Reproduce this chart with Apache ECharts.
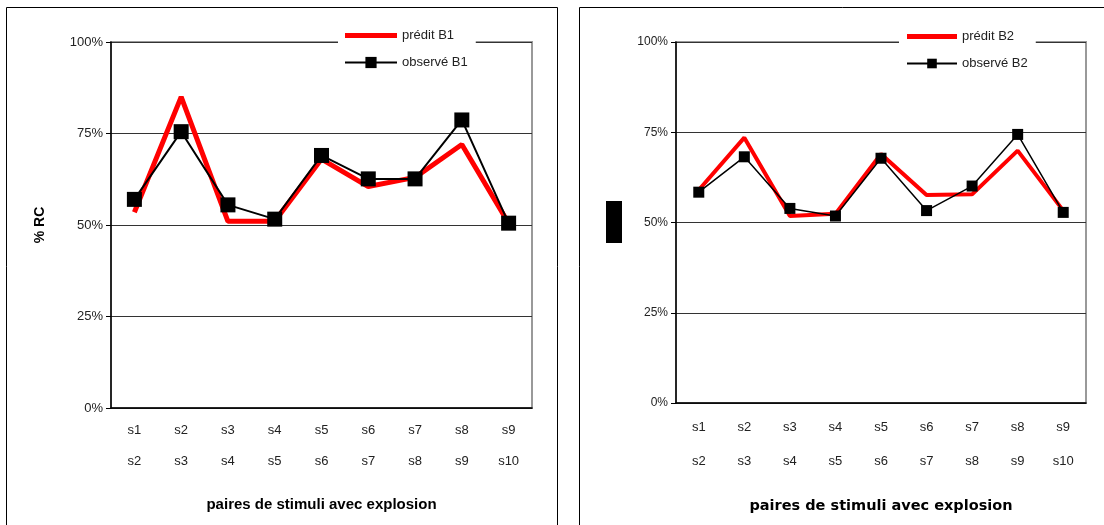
<!DOCTYPE html>
<html>
<head>
<meta charset="utf-8">
<script src="https://cdn.jsdelivr.net/npm/echarts@6/dist/echarts.min.js"></script>
<style>html,body{margin:0;padding:0;background:#fff}#c{width:1104px;height:525px}</style>
</head>
<body>
<div id="c"></div>
<script>
const categories = ['s1\ns2','s2\ns3','s3\ns4','s4\ns5','s5\ns6','s6\ns7','s7\ns8','s8\ns9','s9\ns10'];
const predB1 = [53.5, 85, 51, 51, 68, 60.5, 63, 72, 50.5];
const obsB1  = [57, 75.5, 55.5, 51.6, 69, 62.6, 62.6, 78.7, 50.5];
const predB2 = [59, 73.5, 51.8, 52.4, 69, 57.6, 57.8, 69.9, 53.3];
const obsB2  = [58.4, 68.2, 53.9, 51.8, 67.8, 53.3, 60.1, 74.4, 52.8];
const yTicks = [0, 25, 50, 75, 100];
const xTitle = 'paires de stimuli avec explosion';
const yTitle = '% RC';

const font = 'Liberation Sans, Arial, sans-serif';
const chart = echarts.init(document.getElementById('c'), null, {renderer:'canvas'});

function yAxis(gi, fs, name){
  return {
    type:'value', gridIndex:gi, min:yTicks[0], max:yTicks[yTicks.length-1], interval:25,
    axisLine:{show:true, lineStyle:{color:'#000', width:1.5}},
    axisTick:{show:true, length:5, lineStyle:{color:'#000'}},
    axisLabel:{formatter:'{value}%', color:'#222', fontSize:fs, fontFamily:font, margin:8},
    splitLine:{show:true, lineStyle:{color:'#333', width:1}},
    name:name, nameLocation:'middle', nameRotate:90, nameGap:64,
    nameTextStyle:{fontWeight:'bold', fontSize:14, color:'#000', fontFamily:font}
  };
}
function xAxis(gi, lh, gap, tfont, tsize){
  return {
    type:'category', gridIndex:gi, data:categories, boundaryGap:true,
    axisLine:{show:true, lineStyle:{color:'#000', width:1.5}},
    axisTick:{show:false},
    axisLabel:{color:'#222', fontSize:13, fontFamily:font, lineHeight:lh, margin:7, interval:0},
    name:xTitle, nameLocation:'middle', nameGap:gap,
    nameTextStyle:{fontWeight:'bold', fontSize:tsize, color:'#000', fontFamily:tfont}
  };
}
const redIcon = 'path://M0,0H100V10H0Z';

chart.setOption({
  animation:false,
  backgroundColor:'#fff',
  grid:[
    {left:111, top:42, width:421, height:366, show:true, borderColor:'#999', borderWidth:2, backgroundColor:'transparent'},
    {left:676, top:42, width:410, height:361, show:true, borderColor:'#999', borderWidth:2, backgroundColor:'transparent'}
  ],
  xAxis:[ xAxis(0, 31, 89, font, 15), xAxis(1, 34, 96, 'DejaVu Sans, sans-serif', 14.5) ],
  yAxis:[ yAxis(0, 13, yTitle), yAxis(1, 12, '') ],
  legend:[
    {left:338, top:25, orient:'vertical', backgroundColor:'#fff', padding:[4,8,4,6],
     itemWidth:52, itemHeight:14, itemGap:14,
     textStyle:{fontSize:13, color:'#222', fontFamily:font},
     data:[{name:'prédit B1', icon:redIcon},'observé B1']},
    {left:899, top:26, orient:'vertical', backgroundColor:'#fff', padding:[4,8,4,7],
     itemWidth:50, itemHeight:12, itemGap:14,
     textStyle:{fontSize:13, color:'#222', fontFamily:font},
     data:[{name:'prédit B2', icon:redIcon},'observé B2']}
  ],
  series:[
    {name:'prédit B1', type:'line', xAxisIndex:0, yAxisIndex:0, data:predB1, symbol:'none',
     lineStyle:{color:'#ff0000', width:5}, itemStyle:{color:'#ff0000'}, z:2},
    {name:'observé B1', type:'line', xAxisIndex:0, yAxisIndex:0, data:obsB1, symbol:'rect', symbolSize:15,
     lineStyle:{color:'#000', width:2}, itemStyle:{color:'#000'}, z:3},
    {name:'prédit B2', type:'line', xAxisIndex:1, yAxisIndex:1, data:predB2, symbol:'none',
     lineStyle:{color:'#ff0000', width:4}, itemStyle:{color:'#ff0000'}, z:2},
    {name:'observé B2', type:'line', xAxisIndex:1, yAxisIndex:1, data:obsB2, symbol:'rect', symbolSize:11,
     lineStyle:{color:'#000', width:1.5}, itemStyle:{color:'#000'}, z:3}
  ],
  graphic:[
    {type:'rect', shape:{x:6.5, y:7.5, width:551, height:540}, style:{fill:'none', stroke:'#000', lineWidth:1}, silent:true},
    {type:'rect', shape:{x:579.5, y:7.5, width:560, height:540}, style:{fill:'none', stroke:'#000', lineWidth:1}, silent:true},
    {type:'rect', shape:{x:606, y:201, width:16, height:42}, style:{fill:'#000'}, silent:true}
  ]
});
</script>
</body>
</html>
